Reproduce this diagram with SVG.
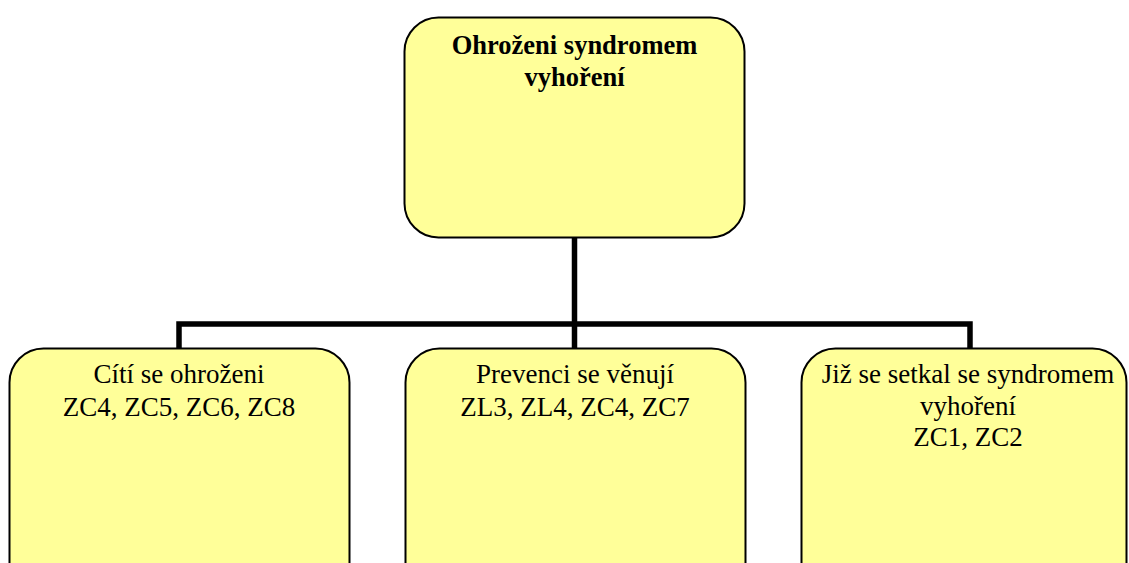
<svg xmlns="http://www.w3.org/2000/svg" width="1129" height="563" viewBox="0 0 1129 563">
  <style>
    .box { fill: #FFFF99; stroke: #000; stroke-width: 2; }
    .lbl { font-family: "Liberation Serif", "Times New Roman", serif; font-size: 27px; fill: #000; text-anchor: middle; }
    .bold { font-weight: bold; font-size: 26.5px; }
    .wire { fill: none; stroke: #000; stroke-width: 5.5; stroke-linejoin: miter; stroke-linecap: butt; }
  </style>
  <rect x="0" y="0" width="1129" height="563" fill="#fff"/>

  <!-- tree connectors -->
  <g id="connectors">
    <path class="wire" d="M574.5 237 V324"/>
    <path class="wire" d="M179 348 V324 H970 V348"/>
    <path class="wire" d="M574.5 324 V348"/>
  </g>

  <g id="root">
    <rect class="box" x="404.5" y="17.5" width="340" height="220" rx="34" ry="34"/>
    <text class="lbl bold" x="574.5" y="54">Ohroženi syndromem</text>
    <text class="lbl bold" x="574.5" y="86">vyhoření</text>
  </g>

  <g id="threatened">
    <rect class="box" x="9.5" y="348.5" width="340" height="260" rx="34" ry="34"/>
    <text class="lbl" x="179" y="383">Cítí se ohroženi</text>
    <text class="lbl" x="179" y="416">ZC4, ZC5, ZC6, ZC8</text>
  </g>

  <g id="prevention">
    <rect class="box" x="405.5" y="348.5" width="340" height="260" rx="34" ry="34"/>
    <text class="lbl" x="575" y="383">Prevenci se věnují</text>
    <text class="lbl" x="575" y="416">ZL3, ZL4, ZC4, ZC7</text>
  </g>

  <g id="experienced">
    <rect class="box" x="801.5" y="348.5" width="325" height="260" rx="34" ry="34"/>
    <text class="lbl" x="968" y="383">Již se setkal se syndromem</text>
    <text class="lbl" x="968" y="415">vyhoření</text>
    <text class="lbl" x="968" y="446">ZC1, ZC2</text>
  </g>
</svg>
